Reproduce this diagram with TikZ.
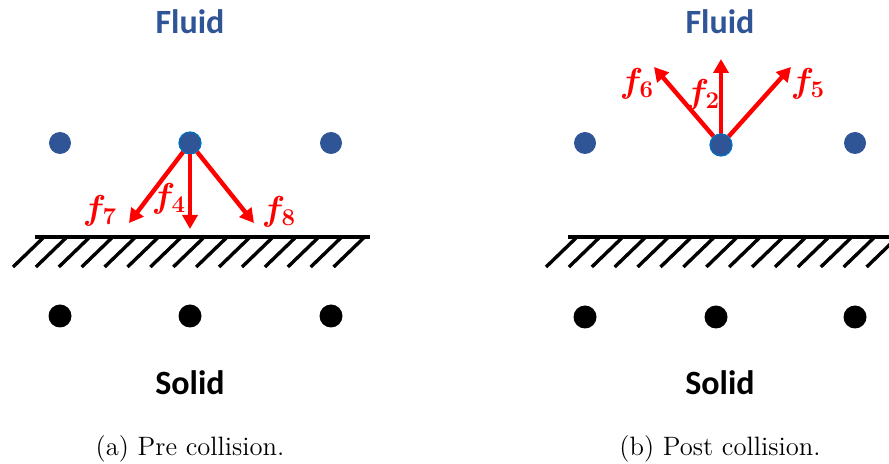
\documentclass[tikz,border=0pt]{standalone}
\usepackage{fontspec}
\usepackage{bm}
\usetikzlibrary{arrows.meta}
\newfontfamily\calibri{Carlito}
\definecolor{fluidblue}{RGB}{47,85,151}
\definecolor{rimblue}{RGB}{0,112,192}

\begin{document}
\begin{tikzpicture}[x=0.5pt, y=-0.5pt,
  fl/.style={circle, fill=fluidblue, minimum size=11pt, inner sep=0pt},
  sd/.style={circle, fill=black, minimum size=11.5pt, inner sep=0pt},
  vel/.style={red, line width=2.2pt, -{Triangle[length=7pt, width=7.5pt]}},
  flab/.style={text=red, font=\fontsize{16.5}{18}\selectfont},
  title/.style={font=\calibri\bfseries\fontsize{17}{20}\selectfont},
  captxt/.style={font=\fontsize{13.3}{16}\selectfont}]
  \useasboundingbox (0,0) rectangle (889,464);
  % (a) pre collision
  \node[title, text=fluidblue] (fluidA) at (190,22) {Fluid};
  \node[title] (solidA) at (190,383) {Solid};
  \node[captxt] (capA) at (190,449) {(a) Pre collision.};
  \draw[line width=2pt] (35,237) -- (370,237);
  \foreach \i in {0,...,14}
    \draw[line width=1.7pt] ({43+22.9*\i},238) -- ++(-30,29);
  \foreach \x/\n in {60/1,190/2,331/3} {
    \node[fl] (fA\n) at (\x,143) {};
    \node[sd] (sA\n) at (\x,316) {};}
  \node[fl, draw=rimblue, line width=0.6pt] at (fA2) {};
  \coordinate (tA7) at (129,223);
  \coordinate (tA4) at (190,229);
  \coordinate (tA8) at (254,223);
  \draw[vel] (fA2) -- (tA7);
  \draw[vel] (fA2) -- (tA4);
  \draw[vel] (fA2) -- (tA8);
  \node[flab] (lA7) at (100,211) {$\bm{f}_{\bm{7}}$};
  \node[flab] (lA4) at (169,199) {$\bm{f}_{\bm{4}}$};
  \node[flab] (lA8) at (279,212) {$\bm{f}_{\bm{8}}$};
  % (b) post collision
  \node[title, text=fluidblue] (fluidB) at (720,22) {Fluid};
  \node[title] (solidB) at (720,383) {Solid};
  \node[captxt] (capB) at (720,449) {(b) Post collision.};
  \draw[line width=2pt] (568,237) -- (889,237);
  \foreach \i in {0,...,14}
    \draw[line width=1.7pt] ({576+22.9*\i},238) -- ++(-30,29);
  \foreach \x/\y/\n in {585/143/1,721/145/2,855/143/3}
    \node[fl] (fB\n) at (\x,\y) {};
  \foreach \x/\n in {585/1,716/2,855/3}
    \node[sd] (sB\n) at (\x,317) {};
  \coordinate (tB6) at (654,67);
  \coordinate (tB2) at (721,59);
  \coordinate (tB5) at (791,67);
  \draw[vel] (fB2) -- (tB6);
  \draw[vel] (fB2) -- (tB2);
  \draw[vel] (fB2) -- (tB5);
  \node[fl, draw=rimblue, line width=0.6pt] at (fB2) {};
  \node[flab] (lB6) at (637,84) {$\bm{f}_{\bm{6}}$};
  \node[flab] (lB2) at (703,95) {$\bm{f}_{\bm{2}}$};
  \node[flab] (lB5) at (808,84) {$\bm{f}_{\bm{5}}$};
\end{tikzpicture}
\end{document}
